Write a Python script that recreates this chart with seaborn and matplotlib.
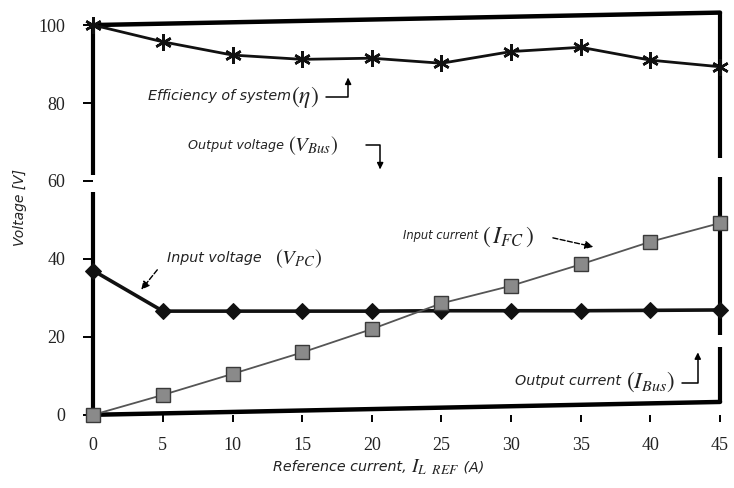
import seaborn as sns
import matplotlib.pyplot as plt

# values
current = [0, 5, 10, 15, 20, 25, 30, 35, 40, 45]
efficiency = [100, 95.7, 92.3, 91.2, 91.5, 90.2, 93.2, 94.3, 91.0, 89.3]
input_voltage = [37.0, 26.6, 26.6, 26.6, 26.6, 26.7, 26.7, 26.7, 26.8, 26.9]
input_current = [0, 5.1, 10.5, 16.0, 22.0, 28.6, 33.1, 38.6, 44.4, 49.2]
edge_current = [0, 45]
output_voltage = [100, 103.2]
output_current = [0, 3.3]
x_ticks = [0, 5, 10, 15, 20, 25, 30, 35, 40, 45]
y_ticks = [0, 20, 40, 60, 80, 100]

sns.set_style('white')
plt.rcParams['font.family'] = ['Liberation Serif', 'DejaVu Serif']
plt.rcParams['mathtext.fontset'] = 'stix'

fig = plt.figure(figsize=(7.34, 4.88), dpi=100)
ax = fig.add_axes([0.127, 0.150, 0.854, 0.825])

# thick top / bottom lines
sns.lineplot(x=edge_current, y=output_voltage, color='black', lw=3.2,
             clip_on=False, ax=ax)
sns.lineplot(x=edge_current, y=output_current, color='black', lw=3.2,
             clip_on=False, ax=ax)

# side lines with the break gaps
left_lo = [output_current[0], 61.5]
left_hi = [57.2, output_voltage[0]]
ax.vlines([current[0]] * 2, left_lo, left_hi, colors='black', lw=3,
          clip_on=False)
right_lo = [output_current[-1], 20.5, 65.9]
right_hi = [17.5, 61.0, output_voltage[-1]]
ax.vlines([current[-1]] * 3, right_lo, right_hi, colors='black', lw=3,
          clip_on=False)

# series
sns.lineplot(x=current, y=efficiency, color='#111111', lw=2,
             marker=(6, 2, 0), markersize=12, mew=1.8, mec='#111111',
             clip_on=False, ax=ax)
sns.lineplot(x=current, y=input_voltage, color='#111111', lw=2.6,
             marker='D', markersize=8, mfc='#111111', mec='#111111',
             clip_on=False, ax=ax)
sns.lineplot(x=current, y=input_current, color='#555555', lw=1.3,
             marker='s', markersize=10, mfc='#8a8a8a', mec='#3a3a3a', mew=1,
             clip_on=False, ax=ax)

ax.set_xlim(0, 45)
ax.set_ylim(0, 103.3)
for s in ax.spines.values():
    s.set_visible(False)

ax.set_xticks(x_ticks)
ax.set_yticks(y_ticks)
ax.tick_params(axis='both', direction='out', color='black', width=1.4,
               labelsize=13, labelcolor='#222222', bottom=True, left=True)
ax.tick_params(axis='y', length=7, pad=13)
ax.tick_params(axis='x', length=5, pad=11)

arrow_l = dict(arrowstyle='-|>', color='black', lw=1.1, shrinkA=0, shrinkB=0,
               mutation_scale=9,
               connectionstyle='angle,angleA=0,angleB=90,rad=0')
arrow_d = dict(arrowstyle='-|>', color='black', lw=1.0, ls='--',
               shrinkA=0, shrinkB=0, mutation_scale=12)


def label(x, y, text, math, size, msize):
    t = ax.text(x, y, text, family='DejaVu Sans', style='italic',
                fontsize=size, color='#222222', va='center')
    ax.annotate(math, xy=(1, 0.45), xycoords=t, va='center', ha='left',
                fontsize=msize, color='#222222')


label(3.9, 81.8, 'Efficiency of system', r'$(\eta)$', 10.3, 17)
ax.annotate('', xy=(18.3, 86.5), xytext=(16.7, 81.5), arrowprops=arrow_l)

label(6.8, 69.2, 'Output voltage ', r'$(V_{Bus})$', 9.2, 15)
ax.annotate('', xy=(20.6, 63.0), xytext=(19.6, 69.2), arrowprops=arrow_l)

label(5.3, 40.3, 'Input voltage   ', r'$(V_{PC})$', 10.3, 15)
ax.annotate('', xy=(3.45, 32.1), xytext=(4.6, 37.2), arrowprops=arrow_d)

label(22.25, 45.9, 'Input current ', r'$(\,I_{FC}\,)$', 8.3, 17)
ax.annotate('', xy=(35.9, 43.1), xytext=(33.0, 45.4), arrowprops=arrow_d)

label(30.3, 8.7, 'Output current ', r'$(I_{Bus})$', 10.3, 16.5)
ax.annotate('', xy=(43.4, 16.0), xytext=(42.3, 8.2), arrowprops=arrow_l)

# axis titles
fig.text(0.027, 0.575, 'Voltage [V]', rotation=90, ha='center', va='center',
         family='DejaVu Sans', style='italic', fontsize=10,
         color='#222222')
xl = fig.text(0.372, 0.043, 'Reference current, ', ha='left', va='center',
              family='DejaVu Sans', style='italic', fontsize=10.3,
              color='#222222')
xm = ax.annotate(r'$I_{L\ \ REF}$', xy=(1, 0.5), xycoords=xl, va='center',
                 ha='left', fontsize=14, color='#222222',
                 annotation_clip=False)
ax.annotate(' (A)', xy=(1, 0.5), xycoords=xm, va='center', ha='left',
            family='DejaVu Sans', style='italic', fontsize=10.3,
            color='#222222', annotation_clip=False)

plt.savefig('out.png', dpi=100)
